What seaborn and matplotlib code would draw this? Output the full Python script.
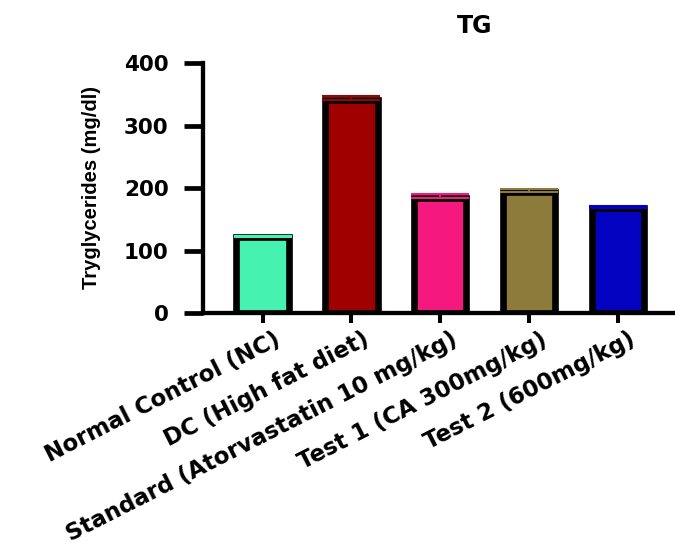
import matplotlib
matplotlib.use("Agg")
import matplotlib.pyplot as plt
import seaborn as sns
import pandas as pd
from matplotlib.transforms import ScaledTranslation

categories = [
    "Normal Control (NC)",
    "DC (High fat diet)",
    "Standard (Atorvastatin 10 mg/kg)",
    "Test 1 (CA 300mg/kg)",
    "Test 2 (600mg/kg)",
]
tg_mean = [122.5, 342, 185, 194.5, 168.5]
tg_sem = [1, 5.5, 5.5, 4.5, 3]
bar_colors = ["#45F2B0", "#A00000", "#F5187E", "#8C7B3A", "#0202C0"]
y_ticks = [0, 100, 200, 300, 400]
title = "TG"
y_label = "Tryglycerides (mg/dl)"

sns.set_theme(style="ticks")
plt.rcParams["font.family"] = ["DejaVu Sans"]

fig = plt.figure(figsize=(6.75, 5.46), dpi=100)
fig.patch.set_facecolor("white")
ax = fig.add_axes([203.3 / 675, 232.7 / 546, 471.7 / 675, 250 / 546])

df = pd.DataFrame({"group": categories, "tg": tg_mean})
sns.barplot(
    data=df, x="group", y="tg", hue="group", palette=bar_colors, legend=False,
    width=0.59, saturation=1, edgecolor="black", linewidth=4.8, errorbar=None,
    ax=ax, zorder=2,
)
for p in ax.patches:
    p.set_clip_path(None)
    p.set_clip_box(ax.bbox)
    p.set_clip_on(True)
    p.set_joinstyle("miter")

for i, (m, s, c) in enumerate(zip(tg_mean, tg_sem, bar_colors)):
    ax.errorbar(i, m, yerr=[[0], [s]], fmt="none", ecolor=c, elinewidth=1.4,
                capsize=21, capthick=1.5, zorder=3, clip_on=False)

ax.set_xlim(-0.667, 4.645)
ax.set_ylim(0, 400)
ax.set_yticks(y_ticks)
ax.set_yticklabels([str(v) for v in y_ticks], fontweight="bold", fontsize=15.5, color="black")

for side in ["top", "right"]:
    ax.spines[side].set_visible(False)
for side in ["left", "bottom"]:
    ax.spines[side].set_linewidth(3.1)
    ax.spines[side].set_color("black")
    ax.spines[side].set_zorder(4)

ax.tick_params(axis="y", length=14, width=3.4, pad=11, colors="black")
ax.tick_params(axis="x", length=7, width=2.9, pad=5, colors="black")

ax.set_xticks(range(len(categories)))
ax.set_xticklabels(categories, rotation=27, ha="right", va="top",
                   rotation_mode="anchor", fontweight="bold", fontsize=16.5, color="black")
offset = ScaledTranslation(0.11, 0.02, fig.dpi_scale_trans)
for lab in ax.get_xticklabels():
    lab.set_transform(lab.get_transform() + offset)

ax.set_xlabel("")
ax.set_ylabel(y_label, fontsize=14.5, fontweight="bold", family=["Liberation Sans", "DejaVu Sans"], color="black")
ax.yaxis.set_label_coords(-0.217, 0.503)

ax.set_title(title, x=0.576, pad=22, fontsize=17, fontweight="bold", color="black")

fig.savefig("out.png", dpi=100, facecolor="white")
